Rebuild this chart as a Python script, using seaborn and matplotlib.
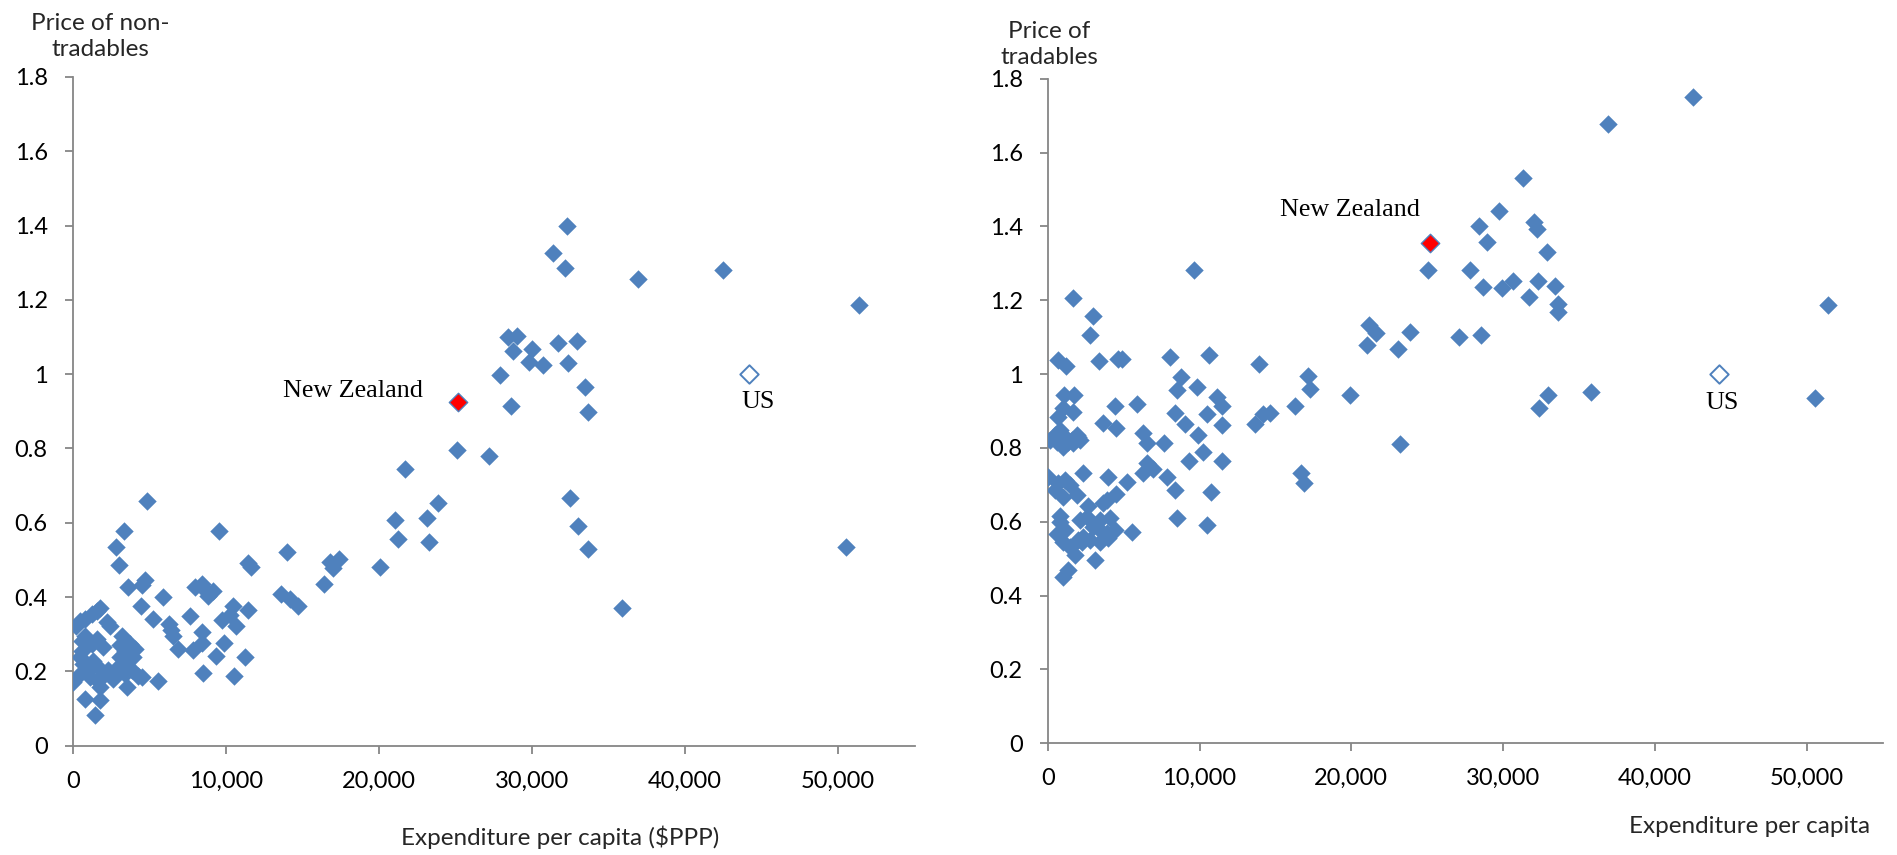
import matplotlib
matplotlib.use("Agg")
import matplotlib.pyplot as plt
import seaborn as sns
import pandas as pd
from matplotlib.ticker import FuncFormatter

# Expenditure per capita ($PPP) and relative price of non-tradables
nontrad_exp = [
    32300, 31380, 32150, 36930, 42480, 51400,
    28460, 29060, 28760, 29980, 31720, 32940,
    29810, 30730, 32350, 27890, 33470, 28640, 33690,
    25100, 27170, 21690, 32470, 33000, 33670, 35860, 50550,
    23900, 21090, 23160, 21240, 23280,
    14000, 16810, 17430, 17010, 20070, 16390,
    13620, 14200, 14690,
    4830, 3370, 9580, 2810, 3000, 3630, 4500, 4750,
    4460, 5270, 5920, 6310, 6400, 6570, 6900, 7660,
    8000, 8430, 8760, 8870, 9190,
    7830, 8420, 8470, 8490, 9360, 9900, 9730, 10270, 10490, 10660,
    10530, 11250, 11470, 11620, 11470, 5550,
    0, 800, 1790, 1460, 220, 480, 800, 1240, 1570, 1790,
    2220, 2440, 590, 800, 590, 1240, 1570, 2000, 480, 700,
    1020, 1350, 1680, 480, 1130, 1570, 2000, 2330, 2660, 1790,
    3200, 3100, 3440, 3750, 4070, 3100, 3530, 3960, 2980, 3420,
    3860, 4290, 4510, 3530,
]
nontrad_price = [
    1.398, 1.327, 1.287, 1.255, 1.280, 1.185,
    1.101, 1.103, 1.063, 1.068, 1.083, 1.088,
    1.034, 1.025, 1.031, 0.998, 0.965, 0.915, 0.898,
    0.796, 0.779, 0.744, 0.666, 0.592, 0.529, 0.372, 0.534,
    0.654, 0.608, 0.612, 0.556, 0.549,
    0.521, 0.494, 0.502, 0.478, 0.481, 0.434,
    0.409, 0.394, 0.377,
    0.658, 0.579, 0.577, 0.536, 0.487, 0.426, 0.433, 0.445,
    0.375, 0.341, 0.399, 0.328, 0.312, 0.296, 0.260, 0.348,
    0.426, 0.435, 0.413, 0.404, 0.417,
    0.258, 0.307, 0.276, 0.197, 0.242, 0.276, 0.339, 0.352, 0.375, 0.323,
    0.188, 0.240, 0.491, 0.482, 0.366, 0.174,
    0.171, 0.127, 0.124, 0.082, 0.323, 0.336, 0.341, 0.354, 0.363, 0.370,
    0.332, 0.323, 0.283, 0.296, 0.256, 0.274, 0.287, 0.265, 0.238, 0.220,
    0.203, 0.229, 0.211, 0.194, 0.185, 0.176, 0.189, 0.203, 0.180, 0.158,
    0.296, 0.270, 0.256, 0.274, 0.261, 0.238, 0.229, 0.238, 0.211, 0.194,
    0.203, 0.189, 0.185, 0.158,
]

# Expenditure per capita and relative price of tradables
trad_exp = [
    42480, 36890, 31320, 29710, 28410, 32050, 32230, 28950, 32910, 25020,
    27820, 28680, 29890, 30650, 32310, 31670, 33390, 33610, 33580, 51410,
    21150, 21610, 21020, 23840, 23090, 27120, 28550, 13940, 17120, 17300,
    19940, 16310, 13620, 14160, 14610, 32930, 32390, 35810, 50530, 23220,
    16660, 16900, 9650,
    1650, 2970, 2790, 3400, 700, 1210, 4660, 4880, 8080, 10620,
    8790, 8510, 9830, 4440, 5910, 3620, 4500, 8390, 9050, 10480,
    11460, 11130, 11460, 6300, 6520, 7630, 9930, 10260, 9330, 11460,
    6520, 6260, 6920, 7840, 8390, 10740, 8500, 10520,
    1100, 1760, 1030, 700, 1690,
    480, 150, 810, 1140, 1580, 2020, 1030, 1690, 590, 1360, 1960, 2130,
    0, 2310, 4000, 5200, 4500, 3890, 3670, 2680, 810, 590, 5530,
    1030, 1470, 1800, 3120, 1360, 1030,
    700, 1140, 1470, 480, 1030, 1910,
    2130, 2570, 3010, 3450, 3890, 4110, 3560, 2350, 2790, 2020, 2240,
    4440, 3450, 4000, 810, 1140,
]
trad_price = [
    1.751, 1.676, 1.532, 1.441, 1.402, 1.412, 1.392, 1.358, 1.331, 1.283,
    1.283, 1.236, 1.232, 1.253, 1.252, 1.208, 1.238, 1.189, 1.169, 1.187,
    1.133, 1.110, 1.079, 1.115, 1.069, 1.101, 1.106, 1.027, 0.995, 0.959,
    0.943, 0.913, 0.866, 0.891, 0.895, 0.943, 0.907, 0.952, 0.934, 0.810,
    0.731, 0.706, 1.282,
    1.207, 1.157, 1.106, 1.036, 1.038, 1.021, 1.042, 1.040, 1.046, 1.051,
    0.991, 0.958, 0.966, 0.914, 0.920, 0.868, 0.855, 0.895, 0.866, 0.891,
    0.913, 0.938, 0.862, 0.841, 0.814, 0.812, 0.835, 0.790, 0.765, 0.765,
    0.758, 0.733, 0.742, 0.722, 0.686, 0.681, 0.609, 0.591,
    0.943, 0.943, 0.907, 0.885, 0.898,
    0.835, 0.821, 0.848, 0.830, 0.821, 0.830, 0.803, 0.812, 0.817, 0.817, 0.835, 0.821,
    0.722, 0.731, 0.720, 0.709, 0.676, 0.659, 0.650, 0.643, 0.617, 0.567, 0.572,
    0.546, 0.533, 0.510, 0.496, 0.469, 0.451,
    0.704, 0.713, 0.699, 0.686, 0.668, 0.672,
    0.605, 0.614, 0.587, 0.605, 0.569, 0.610, 0.573, 0.560, 0.551, 0.551, 0.546,
    0.578, 0.546, 0.555, 0.600, 0.578,
]

# Highlighted countries: (expenditure, non-tradables price, tradables price)
nz_exp, nz_nontrad, nz_trad = 25200, 0.925, 1.355
us_exp, us_nontrad, us_trad = 44200, 1.0, 1.0

x_ticks = [0, 10000, 20000, 30000, 40000, 50000]
y_ticks = [0, 0.2, 0.4, 0.6, 0.8, 1.0, 1.2, 1.4, 1.6, 1.8]

BLUE = "#4F81BD"
AXIS_GREY = "#868686"
MARKER_AREA = 88
LABEL_SIZE = 17.5
TICK_SIZE = 17

sns.set_theme(style="white")
plt.rcParams["font.family"] = ["Lato", "DejaVu Sans"]

fig = plt.figure(figsize=(18.97, 8.55), dpi=100)
ax_l = fig.add_axes([0.0383, 0.1278, 0.4438, 0.7822])
ax_r = fig.add_axes([0.5523, 0.1306, 0.4402, 0.7774])

SERIF = ["Liberation Serif", "DejaVu Serif"]


def style_axis(ax):
    ax.set_xlim(0, 55000)
    ax.set_ylim(0, 1.8)
    ax.set_xticks(x_ticks)
    ax.set_yticks(y_ticks)
    ax.xaxis.set_major_formatter(FuncFormatter(lambda v, p: f"{int(v):,}"))
    ax.yaxis.set_major_formatter(FuncFormatter(lambda v, p: f"{v:g}"))
    for side in ("top", "right"):
        ax.spines[side].set_visible(False)
    for side in ("left", "bottom"):
        ax.spines[side].set_color(AXIS_GREY)
        ax.spines[side].set_linewidth(1.3)
    ax.tick_params(axis="both", direction="out", length=6, width=1.3,
                   color=AXIS_GREY, labelsize=TICK_SIZE, labelcolor="#000000",
                   pad=12, bottom=True, left=True)
    ax.set_xlabel("")
    ax.set_ylabel("")
    ax.grid(False)


def draw_panel(ax, xs, ys, nz_y, us_y):
    df = pd.DataFrame({"exp": xs, "price": ys})
    sns.scatterplot(data=df, x="exp", y="price", marker="D", s=MARKER_AREA,
                    color=BLUE, linewidth=0, ax=ax, zorder=3)
    hi = pd.DataFrame({"exp": [nz_exp], "price": [nz_y]})
    sns.scatterplot(data=hi, x="exp", y="price", marker="D", s=MARKER_AREA,
                    color="#FF0000", edgecolor=BLUE, linewidth=1.0,
                    ax=ax, zorder=4)
    us = pd.DataFrame({"exp": [us_exp], "price": [us_y]})
    sns.scatterplot(data=us, x="exp", y="price", marker="D", s=MARKER_AREA,
                    color="white", edgecolor=BLUE, linewidth=1.4,
                    ax=ax, zorder=4)
    style_axis(ax)


draw_panel(ax_l, nontrad_exp, nontrad_price, nz_nontrad, us_nontrad)
draw_panel(ax_r, trad_exp, trad_price, nz_trad, us_trad)

# Country labels
ax_l.text(22900, 0.955, "New Zealand", ha="right", va="center",
          fontsize=18.8, family=SERIF, color="#000000")
ax_l.text(44800, 0.925, "US", ha="center", va="center",
          fontsize=18.8, family=SERIF, color="#000000")
ax_r.text(24500, 1.443, "New Zealand", ha="right", va="center",
          fontsize=18.8, family=SERIF, color="#000000")
ax_r.text(44400, 0.921, "US", ha="center", va="center",
          fontsize=18.8, family=SERIF, color="#000000")

# Axis titles placed as in a spreadsheet chart
fig.text(100 / 1897, 1 - 13 / 855, "Price of non-\ntradables", ha="center",
         va="top", fontsize=LABEL_SIZE, linespacing=1.3)
fig.text(1049 / 1897, 1 - 21 / 855, "Price of\ntradables", ha="center",
         va="top", fontsize=LABEL_SIZE, linespacing=1.3)
fig.text(560 / 1897, 1 - 837 / 855, "Expenditure per capita ($PPP)",
         ha="center", va="center", fontsize=LABEL_SIZE)
fig.text(1750 / 1897, 1 - 826 / 855, "Expenditure per capita",
         ha="center", va="center", fontsize=LABEL_SIZE)

fig.savefig("out.png", dpi=100, facecolor="white")
